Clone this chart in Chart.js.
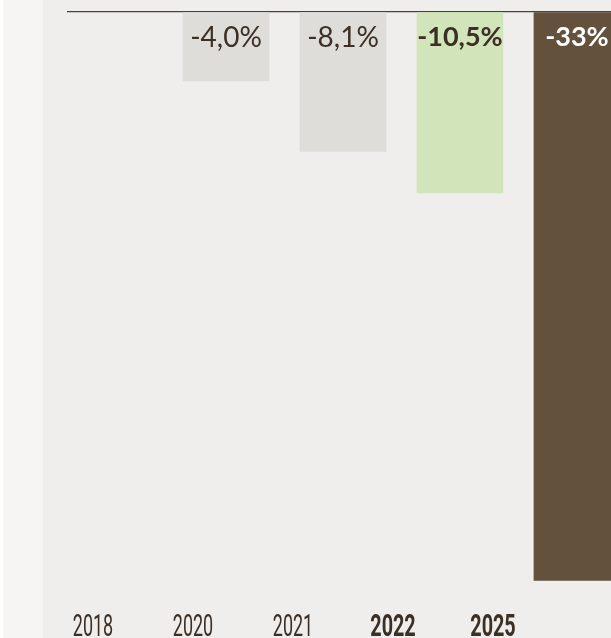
<!DOCTYPE html>
<html>
<head>
<meta charset="utf-8">
<script src="https://cdn.jsdelivr.net/npm/chart.js@4"></script>
<style>
  html, body { margin: 0; padding: 0; }
  body {
    width: 611px; height: 638px; overflow: hidden;
    background: linear-gradient(to right, #ffffff 0 3px, #f6f5f3 3px 43px, #efeeec 43px);
  }
  canvas { display: block; }
</style>
</head>
<body>
<canvas id="changeChart" width="611" height="638"></canvas>
<script>
// Years and change (%) for each year; 2018 is the reference year, so no bar
const years = ['2018', '2020', '2021', '2022', '2025'];
const changes = [null, -4.0, -8.1, -10.5, -33];
const valueLabels = ['', '-4,0%', '-8,1%', '-10,5%', '-33%'];
const highlighted = [false, false, false, true, true];

const barColors = ['#dfddd9', '#dfddd9', '#dfddd9', '#d2e4b9', '#63513e'];
const labelColors = ['#3b2f26', '#3b2f26', '#3b2f26', '#3b2f26', '#ffffff'];
const textDark = '#3b2f26';

// Draws the value text just below the top of each bar
const valueLabelPlugin = {
  id: 'valueLabels',
  afterDatasetsDraw(chart) {
    const ctx = chart.ctx;
    const meta = chart.getDatasetMeta(0);
    ctx.save();
    ctx.textAlign = 'center';
    ctx.textBaseline = 'middle';
    meta.data.forEach((bar, i) => {
      if (changes[i] === null) return;
      ctx.font = highlighted[i] ? 'bold 27px Lato, sans-serif' : '28px Lato, sans-serif';
      ctx.fillStyle = labelColors[i];
      ctx.fillText(valueLabels[i], bar.x, bar.base + 25);
    });
    ctx.restore();
  }
};

// Year labels in a condensed face: squeeze the text horizontally
const yearLabelPlugin = {
  id: 'yearLabels',
  afterDraw(chart) {
    const axis = chart.scales.years;
    const ctx = chart.ctx;
    ctx.save();
    ctx.fillStyle = textDark;
    ctx.textAlign = 'center';
    ctx.textBaseline = 'alphabetic';
    years.forEach((label, i) => {
      const x = axis.getPixelForValue(i);
      ctx.save();
      ctx.translate(x, axis.top + 40);
      ctx.scale(highlighted[i] ? 0.65 : 0.59, 1);
      ctx.font = (highlighted[i] ? 'bold ' : '') + '30.5px Roboto, sans-serif';
      ctx.fillText(label, 0, 0);
      ctx.restore();
    });
    ctx.restore();
  }
};

new Chart(document.getElementById('changeChart'), {
  type: 'bar',
  data: {
    datasets: [{
      data: changes.map((v, i) => ({ x: i, y: v })),
      backgroundColor: barColors,
      barThickness: 86,
      borderWidth: 0
    }]
  },
  options: {
    responsive: false,
    animation: false,
    layout: { padding: { left: 67, right: 0, top: 12, bottom: 0 } },
    plugins: { legend: { display: false }, tooltip: { enabled: false } },
    scales: {
      // bar positions
      x: {
        type: 'linear',
        display: false,
        offset: false,
        min: -0.359,
        max: 4.291
      },
      // year label positions along the bottom
      years: {
        type: 'linear',
        position: 'bottom',
        offset: false,
        min: -0.26,
        max: 5.18,
        grid: { display: false, drawTicks: false },
        border: { display: false },
        ticks: { display: false },
        afterFit: axis => { axis.height = 42; }
      },
      y: {
        min: -33.9,
        max: 0,
        ticks: { display: false },
        border: { display: false },
        grid: {
          drawTicks: false,
          lineWidth: 1.3,
          color: c => (c.tick && c.tick.value === 0 ? '#4a4039' : 'transparent')
        }
      }
    }
  },
  plugins: [valueLabelPlugin, yearLabelPlugin]
});
</script>
</body>
</html>
